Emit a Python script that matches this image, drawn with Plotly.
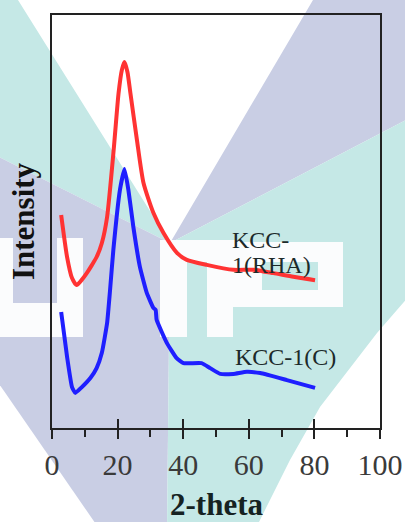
import plotly.graph_objects as go

# ---------------- data ----------------
two_theta_rha = [2.8, 4.6, 6.1, 7.5, 9.0, 10.6, 12.2, 13.6, 15.2, 16.8, 18.8, 20.3, 21.3, 22.1,
                 23.0, 23.9, 25.9, 27.9, 30.9, 34.0, 38.1, 41.1, 47.2, 55.3, 61.4, 67.5, 73.6, 80.2]
intensity_rha = [51.6, 41.4, 36.3, 34.6, 35.8, 37.5, 39.5, 41.4, 44.8, 51.1, 67.3, 81.1, 86.7, 88.6,
                 86.2, 81.1, 69.7, 59.3, 52.1, 47.2, 42.4, 40.7, 39.5, 38.3, 38.3, 37.5, 36.6, 35.8]

two_theta_c = [2.8, 4.6, 6.1, 7.1, 9.1, 11.7, 13.6, 15.2, 16.8, 17.7, 18.7, 20.7, 22.1, 23.3, 24.8,
               26.8, 28.9, 30.9, 31.6, 31.9, 35.0, 38.0, 40.1, 45.6, 48.2, 51.3, 55.3, 59.4, 63.5,
               71.6, 80.2]
intensity_c = [28.1, 17.2, 9.9, 8.5, 9.9, 12.1, 14.5, 18.2, 25.4, 33.4, 43.1, 57.6, 62.7, 57.6, 48.7,
               39.0, 32.7, 29.1, 28.6, 26.2, 20.6, 16.9, 15.7, 15.7, 14.5, 13.1, 13.1, 13.6, 13.3,
               11.6, 9.7]

x_tick_vals = [0, 20, 40, 60, 80, 100]
x_tick_text = ["0", "20", "40", "60", "80", "100"]
x_minor_vals = [10, 30, 50, 70, 90]
x_title = "2-theta"
y_title = "Intensity"

# ---------------- layout constants ----------------
FIG_W, FIG_H = 405, 522
L, R, T, B = 52, 380, 15, 428
SERIF = "Liberation Serif, Times New Roman, serif"
TEAL = "#c5e8e6"
LAV = "#c9cee4"
INK = "#222222"


def to_paper(px, py):
    return (px - L) / (R - L), (B - py) / (B - T)


def poly_path(pts):
    parts = []
    for i, (px, py) in enumerate(pts):
        x, y = to_paper(px, py)
        parts.append(("M" if i == 0 else "L") + f"{x:.4f},{y:.4f}")
    return " ".join(parts) + " Z"


def rect(x0, y0, x1, y1):
    return [(x0, y0), (x1, y0), (x1, y1), (x0, y1)]


# faint background watermark (approximate polygons, in figure pixels)
watermark = [
    (TEAL, [(-5, -5), (18, -5), (18, 0), (170, 243), (-5, 155)]),
    (LAV, [(-5, 155), (170, 243), (167, 530), (100, 530), (-5, 378)]),
    (LAV, [(313, 0), (313, -5), (410, -5), (410, 118), (170, 243)]),
    (TEAL, [(170, 243), (410, 118), (410, 295), (377, 333), (320, 407), (290, 460), (255, 530),
            (167, 530)]),
]
letters = [
    rect(-5, 238, 13, 337),
    rect(57, 238, 83, 337),
    rect(-5, 303, 83, 337),
    rect(160, 240, 187, 337),
    rect(187, 240, 240, 262),
    rect(207, 240, 233, 337),
    rect(233, 242, 343, 307),
]
letter_holes = [rect(262, 262, 318, 290)]

shapes = []
for col, pts in watermark:
    shapes.append(dict(type="path", path=poly_path(pts), xref="paper", yref="paper",
                       fillcolor=col, line=dict(width=0), layer="below"))
for pts in letters:
    shapes.append(dict(type="path", path=poly_path(pts), xref="paper", yref="paper",
                       fillcolor="#fbfcfd", line=dict(width=0), layer="below"))
for pts in letter_holes:
    shapes.append(dict(type="path", path=poly_path(pts), xref="paper", yref="paper",
                       fillcolor=TEAL, line=dict(width=0), layer="below"))

fig = go.Figure()
fig.add_trace(go.Scatter(x=two_theta_rha, y=intensity_rha, mode="lines", name="KCC-1(RHA)",
                         line=dict(color="#ff3333", width=4, shape="spline", smoothing=0.6),
                         showlegend=False))
fig.add_trace(go.Scatter(x=two_theta_c, y=intensity_c, mode="lines", name="KCC-1(C)",
                         xaxis="x2",
                         line=dict(color="#1f1fff", width=4, shape="spline", smoothing=0.4),
                         showlegend=False))

label_font = dict(family=SERIF, size=24, color="#1c2a2a")
annotations = [
    dict(x=(230 - L) / (R - L) * 100, y=(B - 240) / (B - T) * 100, text="KCC-"),
    dict(x=(230 - L) / (R - L) * 100, y=(B - 265) / (B - T) * 100, text="1(RHA)"),
    dict(x=(233 - L) / (R - L) * 100, y=(B - 357) / (B - T) * 100, text="KCC-1(C)"),
]
for a in annotations:
    a.update(xref="x", yref="y", xanchor="left", yanchor="middle", showarrow=False, font=label_font)

# x-axis title placed as a paper annotation so it can sit low, as in the reference
annotations.append(dict(x=0.5, y=to_paper(0, 524)[1], xref="paper", yref="paper",
                        xanchor="center", yanchor="bottom", showarrow=False,
                        text="<b>" + x_title + "</b>",
                        font=dict(family=SERIF, size=31, color="#152222")))

fig.update_layout(
    width=FIG_W, height=FIG_H,
    margin=dict(l=L, r=FIG_W - R, t=T, b=FIG_H - B),
    paper_bgcolor="white", plot_bgcolor="rgba(0,0,0,0)",
    shapes=shapes, annotations=annotations,
    xaxis=dict(range=[0, 100], tickmode="array", tickvals=x_tick_vals, ticktext=x_tick_text,
               automargin=False,
               ticks="outside", ticklen=9, tickwidth=2, tickcolor=INK,
               minor=dict(tickmode="array", tickvals=x_minor_vals, ticks="outside", ticklen=7,
                          tickwidth=2, tickcolor=INK),
               showline=True, linecolor=INK, linewidth=2, mirror=True,
               showgrid=False, zeroline=False,
               tickfont=dict(family=SERIF, size=30, color="#3a3a3a")),
    xaxis2=dict(range=[0, 100], overlaying="x", anchor="y", side="bottom", automargin=False,
                tickmode="array", tickvals=x_tick_vals, ticks="inside", ticklen=9, tickwidth=2,
                tickcolor=INK, showticklabels=False, showline=False, showgrid=False,
                zeroline=False),
    yaxis=dict(range=[0, 100], showticklabels=False, ticks="", showline=True, linecolor=INK,
               automargin=False,
               linewidth=1.5, mirror=True, showgrid=False, zeroline=False,
               title=dict(text="<b>" + y_title + "</b>", standoff=6,
                          font=dict(family=SERIF, size=31, color="#111111"))),
)

fig.write_html("out.html", config={"displayModeBar": False},
               post_script="document.body.style.margin='0px';")
